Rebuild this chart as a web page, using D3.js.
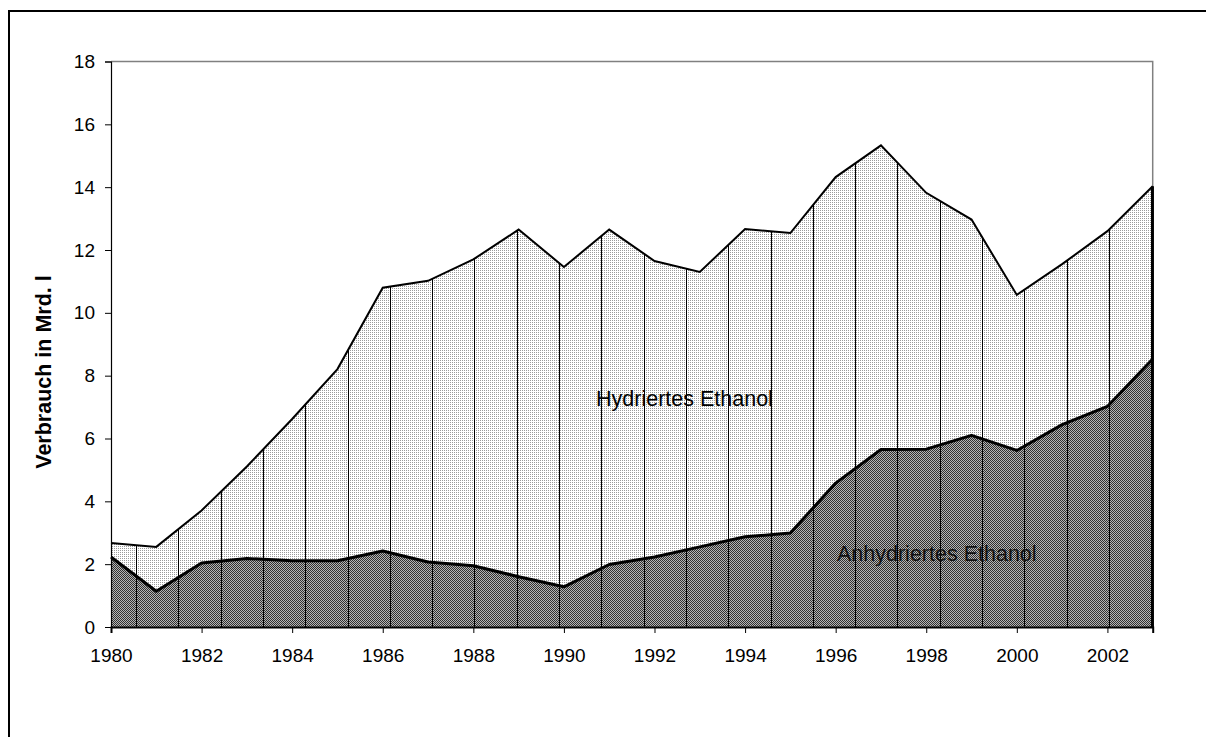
<!DOCTYPE html>
<html>
<head>
<meta charset="utf-8">
<script src="https://cdn.jsdelivr.net/npm/d3@7"></script>
<style>
  body { margin: 0; background: #fff; overflow: hidden; }
  svg { display: block; font-family: "Liberation Sans", Arial, sans-serif; }
</style>
</head>
<body>
<script>
// Verbrauch von Ethanol, Mrd. l
var years = [1980, 1981, 1982, 1983, 1984, 1985, 1986, 1987, 1988, 1989, 1990, 1991,
             1992, 1993, 1994, 1995, 1996, 1997, 1998, 1999, 2000, 2001, 2002, 2003];
var anhydriert = [2.23, 1.14, 2.04, 2.18, 2.11, 2.11, 2.42, 2.07, 1.95, 1.60, 1.28, 1.99,
                  2.23, 2.55, 2.87, 2.99, 4.58, 5.65, 5.66, 6.10, 5.62, 6.44, 7.02, 8.53];
var hydriert = [0.44, 1.41, 1.67, 2.93, 4.51, 6.10, 8.38, 8.95, 9.75, 11.05, 10.18, 10.66,
                9.42, 8.75, 9.80, 9.55, 9.74, 9.68, 8.16, 6.87, 4.95, 5.11, 5.58, 5.50];
var yTicks = [0, 2, 4, 6, 8, 10, 12, 14, 16, 18];
var xTicks = [1980, 1982, 1984, 1986, 1988, 1990, 1992, 1994, 1996, 1998, 2000, 2002];

(function() {
    var width = 1206,
        height = 737,
        plotLeft = 111, plotRight = 1152.7,
        plotTop = 61.5, plotBottom = 627,
        hatchStart = 136, hatchStep = 42.3; // spacing of the vertical pattern lines

    var rows = years.map(function(yr, i) {
        return {year: yr, an: anhydriert[i], hy: hydriert[i]};
    });
    var stacked = d3.stack().keys(["an", "hy"])(rows);

    var x = d3.scaleLinear().domain([years[0], years[years.length - 1]]).range([plotLeft, plotRight]);
    var y = d3.scaleLinear().domain([0, 18]).range([plotBottom, plotTop]);

    var svg = d3.select("body").append("svg")
        .attr("width", width)
        .attr("height", height);

    var defs = svg.append("defs");

    // light dotted fill
    var pLight = defs.append("pattern").attr("id", "light")
        .attr("patternUnits", "userSpaceOnUse").attr("width", 2).attr("height", 2);
    pLight.append("rect").attr("width", 2).attr("height", 2).attr("fill", "#fff");
    pLight.append("rect").attr("width", 1).attr("height", 1).attr("fill", "#9a9a9a");

    // dark checker fill
    var pDark = defs.append("pattern").attr("id", "dark")
        .attr("patternUnits", "userSpaceOnUse").attr("width", 2).attr("height", 2);
    pDark.append("rect").attr("width", 2).attr("height", 2).attr("fill", "#b4b4b4");
    pDark.append("rect").attr("width", 1).attr("height", 1).attr("fill", "#303030");
    pDark.append("rect").attr("x", 1).attr("y", 1).attr("width", 1).attr("height", 1).attr("fill", "#303030");

    var area = d3.area()
        .x(function(d) { return x(d.data.year); })
        .y0(function(d) { return y(d[0]); })
        .y1(function(d) { return y(d[1]); });

    var topLine = d3.line()
        .x(function(d) { return x(d.data.year); })
        .y(function(d) { return y(d[1]); });

    defs.append("clipPath").attr("id", "areaClip")
        .append("path")
        .attr("d", d3.area()
            .x(function(d) { return x(d.data.year); })
            .y0(plotBottom)
            .y1(function(d) { return y(d[1]); })(stacked[1]));

    // outer frame (only left and top edges fall inside the picture)
    svg.append("path")
        .attr("d", "M9," + height + "V11H" + width)
        .attr("fill", "none")
        .attr("stroke", "#000")
        .attr("stroke-width", 2);

    // plot border (top and right)
    svg.append("path")
        .attr("d", "M" + plotLeft + "," + plotTop + "H" + plotRight + "V" + plotBottom)
        .attr("fill", "none")
        .attr("stroke", "#808080")
        .attr("stroke-width", 1.5);

    var plot = svg.append("g");

    plot.selectAll(".layer")
        .data(stacked)
        .enter().append("path")
        .attr("class", "layer")
        .attr("d", area)
        .attr("fill", function(d, i) { return i === 0 ? "url(#dark)" : "url(#light)"; });

    // vertical pattern lines
    plot.append("g")
        .attr("clip-path", "url(#areaClip)")
        .selectAll("line")
        .data(d3.range(hatchStart, plotRight, hatchStep))
        .enter().append("line")
        .attr("x1", function(d) { return Math.round(d) + 0.5; })
        .attr("x2", function(d) { return Math.round(d) + 0.5; })
        .attr("y1", plotTop)
        .attr("y2", plotBottom)
        .attr("stroke", "#000")
        .attr("stroke-width", 1);

    // outlines
    plot.append("path")
        .attr("d", topLine(stacked[1]))
        .attr("fill", "none")
        .attr("stroke", "#000")
        .attr("stroke-width", 2);

    plot.append("path")
        .attr("d", topLine(stacked[0]))
        .attr("fill", "none")
        .attr("stroke", "#000")
        .attr("stroke-width", 3)
        .attr("stroke-linejoin", "round");

    var last = stacked[1][stacked[1].length - 1];
    plot.append("line")
        .attr("x1", x(last.data.year)).attr("x2", x(last.data.year))
        .attr("y1", y(last[1])).attr("y2", plotBottom)
        .attr("stroke", "#000")
        .attr("stroke-width", 2.5);

    // axes
    var yAxis = svg.append("g")
        .attr("transform", "translate(" + plotLeft + ",0)")
        .call(d3.axisLeft(y).tickValues(yTicks).tickSize(6).tickPadding(10));

    var xAxis = svg.append("g")
        .attr("transform", "translate(0," + plotBottom + ")")
        .call(d3.axisBottom(x).tickValues(xTicks).tickFormat(d3.format("d")).tickSize(6).tickPadding(16));

    [yAxis, xAxis].forEach(function(ax) {
        ax.selectAll("text").attr("font-size", "19px").attr("fill", "#000")
          .attr("font-family", "Liberation Sans, Arial, sans-serif");
        ax.selectAll("line").attr("stroke", "#000");
    });
    yAxis.select(".domain").attr("stroke", "#000").attr("stroke-width", 1.2);
    xAxis.select(".domain").attr("stroke", "#000").attr("stroke-width", 2);

    // axis title
    svg.append("text")
        .attr("transform", "translate(51,372) rotate(-90)")
        .attr("text-anchor", "middle")
        .attr("font-size", "21.5px")
        .attr("font-weight", "bold")
        .text("Verbrauch in Mrd. l");

    // series labels
    svg.append("text")
        .attr("x", 596).attr("y", 406)
        .attr("font-size", "21.5px")
        .text("Hydriertes Ethanol");

    svg.append("text")
        .attr("x", 837).attr("y", 561)
        .attr("font-size", "21.5px")
        .attr("fill", "#111")
        .text("Anhydriertes Ethanol");
})();
</script>
</body>
</html>
